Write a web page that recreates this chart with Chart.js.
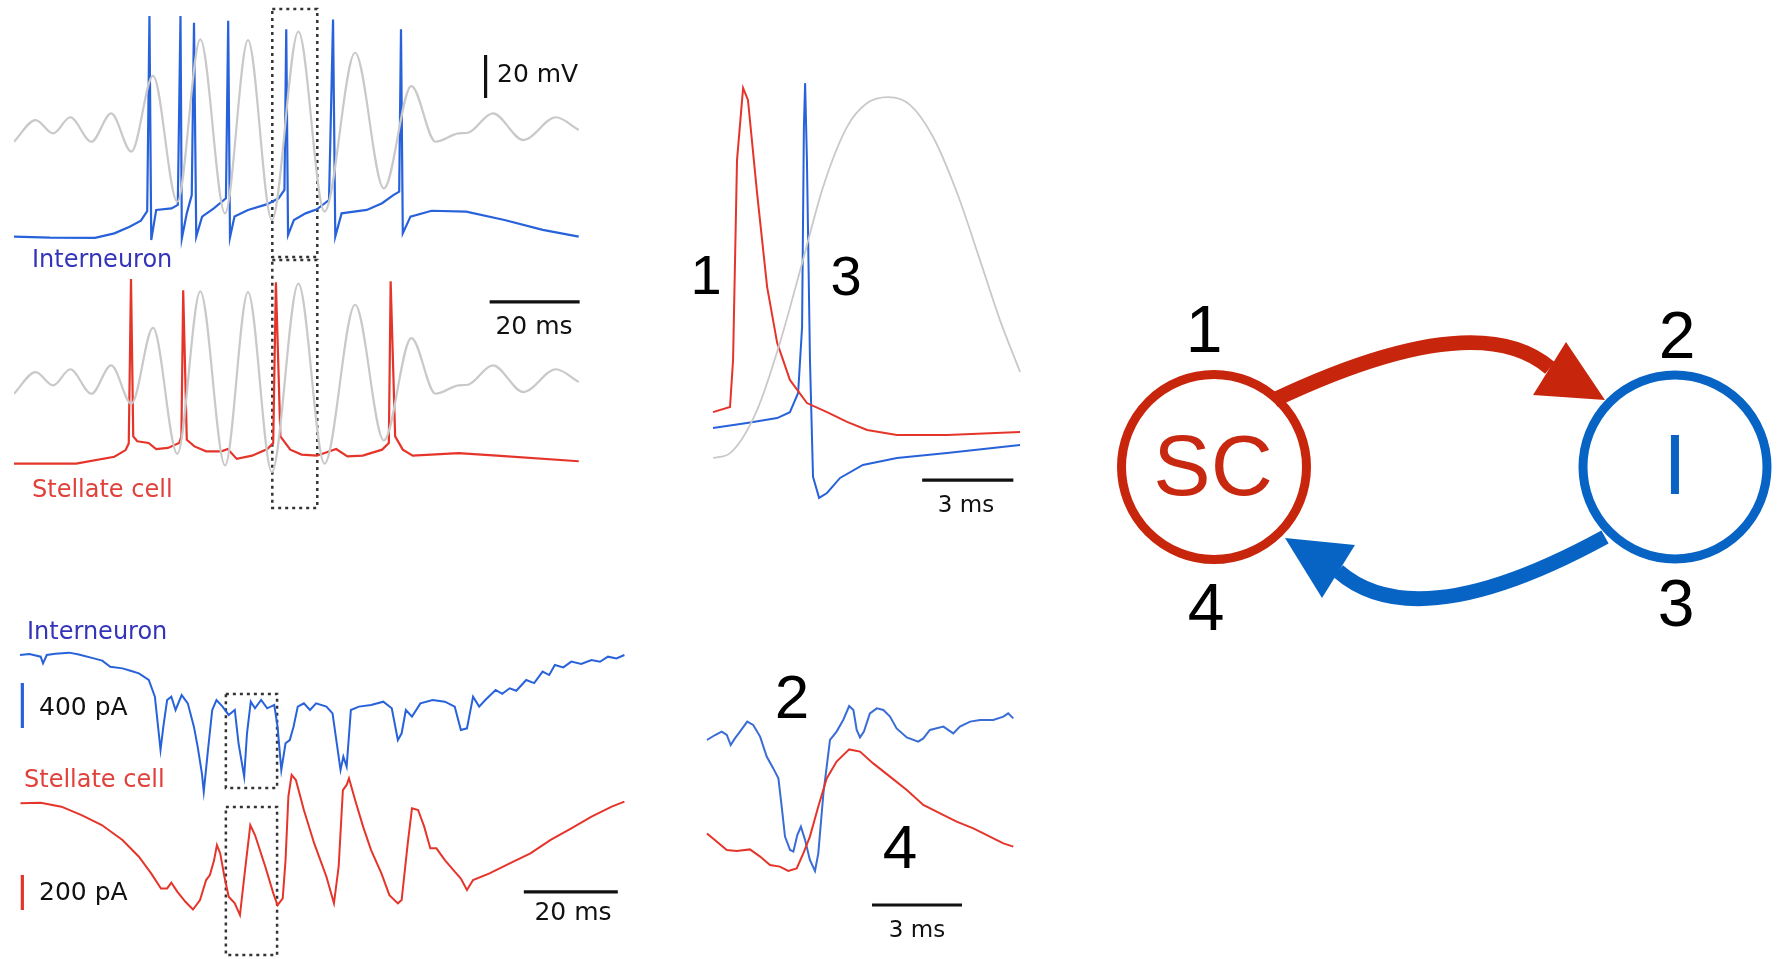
<!DOCTYPE html>
<html>
<head>
<meta charset="utf-8">
<script src="https://cdn.jsdelivr.net/npm/chart.js@4.4.1/dist/chart.umd.min.js"></script>
<style>
body { margin: 0; background: #fff; width: 1783px; height: 959px; overflow: hidden; position: relative; }
canvas { position: absolute; }
.lbl { position: absolute; font-family: "DejaVu Sans", sans-serif; font-size: 24px; line-height: 1; white-space: nowrap; transform: translateY(-50%); }
.ctr { transform: translate(-50%, -50%); }
.num { position: absolute; font-family: "Liberation Sans", Arial, sans-serif; font-size: 56px; line-height: 1; color: #000; transform: translate(-50%, -50%); }
</style>
</head>
<body>
<canvas id="vmInt" width="566" height="260" style="left:14px;top:0px"></canvas>
<canvas id="vmSc" width="566" height="260" style="left:14px;top:252px"></canvas>
<canvas id="vmZoom" width="330" height="460" style="left:700px;top:60px"></canvas>
<canvas id="curInt" width="620" height="240" style="left:10px;top:600px"></canvas>
<canvas id="curSc" width="620" height="199" style="left:10px;top:760px"></canvas>
<canvas id="curZoom" width="340" height="309" style="left:690px;top:650px"></canvas>
<canvas id="circuit" width="683" height="350" style="left:1100px;top:290px"></canvas>

<div class="lbl" style="left:497px;top:73px;font-size:25px;color:#111">20 mV</div>
<div class="lbl ctr" style="left:534px;top:325px;font-size:25px;color:#111">20 ms</div>
<div class="lbl" style="left:32px;top:259px;color:#3434b8">Interneuron</div>
<div class="lbl" style="left:32px;top:489px;color:#e0413b">Stellate cell</div>
<div class="num" style="left:706px;top:275px">1</div>
<div class="num" style="left:846px;top:276px">3</div>
<div class="lbl ctr" style="left:966px;top:504px;font-size:23px;color:#111">3 ms</div>

<div class="lbl" style="left:27px;top:631px;color:#3434b8">Interneuron</div>
<div class="lbl" style="left:39px;top:706px;font-size:25px;color:#111">400 pA</div>
<div class="lbl" style="left:24px;top:779px;color:#e0413b">Stellate cell</div>
<div class="lbl" style="left:39px;top:891px;font-size:25px;color:#111">200 pA</div>
<div class="lbl ctr" style="left:573px;top:911px;font-size:25px;color:#111">20 ms</div>
<div class="num" style="left:792px;top:697px;font-size:62px">2</div>
<div class="num" style="left:900px;top:847px;font-size:62px">4</div>
<div class="lbl ctr" style="left:917px;top:929px;font-size:23px;color:#111">3 ms</div>

<div class="num" style="left:1204px;top:329px;font-size:66px">1</div>
<div class="num" style="left:1677px;top:335px;font-size:66px">2</div>
<div class="num" style="left:1206px;top:607px;font-size:66px">4</div>
<div class="num" style="left:1676px;top:603px;font-size:66px">3</div>
<div class="num" style="left:1213px;top:465px;font-size:86px;color:#c8280f">SC</div>
<div class="num" style="left:1675px;top:464px;font-size:86px;color:#0a63c2">I</div>

<script>
// membrane potential, interneuron (ms, mV)
const vmT_int = [0, 8, 18, 22.3, 25.7, 28.2, 29.6, 30.1, 30.5, 31.6, 35.0, 36.4, 37.0, 37.3, 38.4, 39.5, 40.0, 40.5, 41.8, 44.4, 47.1, 47.6, 48.0, 49.0, 52.0, 56.3, 58.8, 60.1, 60.5, 60.9, 62.2, 64.8, 67.3, 70.0, 70.9, 71.4, 72.8, 78.4, 81.8, 84.3, 85.6, 86.0, 86.4, 88.1, 92.8, 100.5, 109.0, 117.5, 125.5];
const vmV_int = [-69.8, -70.3, -70.4, -68.3, -65.2, -62.4, -58, 32.8, -71.4, -57.4, -56.7, -55.1, 32.8, -70.6, -59, -50.5, 29.7, -69.8, -60.5, -56.7, -52, 30.6, -70.2, -60.5, -57.4, -54.7, -52, -48.1, 26.6, -69.1, -62.1, -59, -57.1, -52.8, 31.2, -69.8, -59, -57.4, -54.3, -50.5, -48.9, 26.6, -68.3, -60.5, -57.8, -58.2, -62.1, -66.7, -69.8];

// membrane potential, stellate cell
const vmT_sc = [0, 13.8, 22.3, 24.8, 25.5, 26.0, 26.5, 27.4, 29.9, 31.6, 34.2, 36.7, 37.2, 37.6, 38.4, 40.1, 42.7, 46.1, 47.5, 49.5, 52.9, 56.3, 57.6, 58.2, 59.2, 61.4, 63.9, 67.3, 71.6, 74.1, 77.5, 81.8, 83.3, 83.7, 84.7, 86.4, 88.6, 98.8, 107.3, 125.5];
const vmV_sc = [-58.2, -58.2, -55.0, -51.9, -48.8, 27.7, -45.5, -47.8, -48.6, -51.4, -50.9, -48.6, -45.5, 22.4, -47.1, -50.2, -52.5, -52.5, -51.4, -56.0, -54.5, -51.4, -48.6, 26.1, -45.5, -51.7, -54.0, -54.5, -51.4, -54.8, -54.5, -51.7, -48.6, 26.6, -45.5, -51.7, -54.5, -53.3, -54.5, -57.1];

// grey field oscillation (same trace behind both cells)
const lfpT = [0, 4.8, 8.7, 12.5, 17.2, 21.6, 26.1, 30.9, 36.3, 41.4, 46.9, 52.0, 57.3, 63.2, 69.0, 75.8, 82.2, 88.3, 93.7, 98.8, 100.9, 106.4, 113.2, 120.4, 125.5];
const lfpV = [-25.7, -15.6, -21.8, -14.3, -25.7, -12.5, -30.3, 4.9, -53.6, 21.9, -59, 21.6, -62.1, 25.5, -58.2, 15.7, -47.4, 0.2, -25.7, -21.8, -21.5, -12.5, -24.9, -14.3, -20.2];

// expanded view of the boxed cycle
const zoomT_sc = [0, 0.56, 0.66, 0.79, 0.99, 1.15, 1.45, 1.78, 2.11, 2.53, 3.09, 3.75, 4.41, 5.07, 6.05, 7.70, 10.1];
const zoomV_sc = [-59.9, -58.4, -45, 12.1, 32.7, 29.3, 2.7, -24.1, -40.1, -50.7, -57.3, -59.9, -62.7, -65, -66.4, -66.4, -65.6];
const zoomT_int = [0, 1.12, 2.11, 2.53, 2.80, 2.93, 2.99, 3.03, 3.09, 3.19, 3.29, 3.49, 3.75, 4.18, 4.93, 6.05, 7.70, 10.1];
const zoomV_int = [-64.4, -63, -61.6, -59.9, -54.4, -35.6, 21.6, 34.1, 12.1, -45, -78.4, -84.4, -83, -78.7, -75, -73, -71.6, -69.3];
const zoomT_lfp = [0, 0.56, 1.45, 2.20, 2.96, 3.62, 4.41, 5.07, 5.76, 6.48, 7.24, 8.03, 8.78, 9.44, 10.1];
const zoomV_lfp = [-73, -71.6, -59.3, -40.1, -16.4, 4.4, 21.6, 28.4, 30.1, 27.9, 18.7, 2.7, -16.4, -33.6, -48.4];

// synaptic currents (ms, pA)
const curT_int = [0, 2, 4.4, 4.9, 5.7, 7.5, 10.5, 12.5, 15.7, 17.5, 19.2, 21.8, 23.5, 25.3, 27.4, 28.7, 29.9, 30.5, 31.3, 32.2, 33.1, 34.4, 35.7, 37.0, 37.8, 38.7, 39.1, 40.0, 40.9, 41.8, 43.1, 44.4, 45.7, 46.5, 47.7, 48.3, 49.1, 50.0, 51.3, 52.6, 54.1, 54.8, 55.6, 56.5, 57.4, 58.2, 59.1, 60.4, 61.7, 63.0, 65.2, 66.5, 67.4, 68.2, 68.8, 69.5, 70.4, 72.1, 74.7, 77.3, 79.1, 80.4, 81.2, 82.1, 83.4, 85.2, 87.8, 90.4, 92.5, 93.8, 95.1, 96.4, 97.7, 99.0, 101.2, 102.6, 104.2, 105.6, 107.7, 109.4, 111.2, 112.6, 113.8, 115.6, 117.3, 119.4, 121.6, 123.4, 125.1, 126.9, 128.6];
const curI_int = [0, 8, -15, -74, 0, 12, 21, 5, -30, -50, -104, -119, -140, -163, -222, -370, -844, -637, -400, -370, -489, -356, -430, -637, -815, -1052, -1215, -844, -489, -400, -459, -533, -489, -785, -1081, -696, -415, -474, -400, -474, -444, -637, -1022, -785, -756, -637, -459, -430, -489, -430, -459, -519, -785, -1022, -904, -993, -489, -459, -444, -415, -474, -756, -696, -489, -548, -430, -400, -415, -459, -667, -652, -370, -459, -400, -311, -345, -296, -318, -222, -250, -148, -178, -89, -110, -59, -80, -44, -60, -15, -30, 0];
const curT_sc = [0.1, 4.4, 8.8, 13.1, 17.4, 21.8, 25.3, 27.9, 30.0, 31.3, 32.2, 33.5, 35.2, 36.8, 38.3, 39.6, 40.4, 41.3, 41.9, 42.6, 43.5, 44.4, 45.7, 46.8, 47.8, 49.0, 50.0, 52.2, 53.9, 54.8, 55.9, 56.5, 57.1, 57.8, 58.7, 60.4, 62.6, 65.2, 66.8, 67.8, 68.7, 69.5, 70.0, 71.3, 73.0, 74.7, 76.9, 78.6, 80.4, 81.2, 82.5, 83.4, 84.7, 86.0, 87.3, 88.6, 90.4, 92.5, 93.8, 95.1, 96.4, 99.9, 104.2, 108.6, 112.9, 117.3, 121.6, 125.9, 128.6];
const curI_sc = [-2, 2, -21, -69, -126, -211, -307, -402, -488, -488, -455, -507, -564, -608, -554, -440, -411, -326, -240, -288, -421, -535, -573, -640, -402, -126, -183, -364, -516, -583, -545, -326, 36, 160, 131, -40, -231, -421, -573, -364, 74, 103, 141, 17, -135, -269, -402, -526, -573, -554, -231, -30, -40, -135, -259, -259, -326, -392, -431, -497, -440, -402, -345, -288, -211, -145, -78, -21, 8];

// expanded currents
const zcT_int = [0, 0.27, 0.49, 0.66, 0.79, 0.93, 1.1, 1.34, 1.54, 1.77, 1.99, 2.21, 2.38, 2.49, 2.6, 2.77, 2.88, 3.01, 3.13, 3.27, 3.43, 3.6, 3.71, 3.88, 4.1, 4.32, 4.54, 4.74, 4.88, 4.99, 5.1, 5.23, 5.43, 5.66, 5.88, 6.1, 6.32, 6.66, 7.04, 7.21, 7.43, 7.88, 8.21, 8.43, 8.77, 9.1, 9.54, 9.88, 10.04, 10.21];
const zcI_int = [0, 25, 42, 25, -25, 8, 42, 92, 75, 17, -83, -142, -192, -333, -483, -550, -558, -475, -433, -500, -600, -655, -567, -267, 0, 42, 100, 170, 150, 50, 13, 42, 133, 158, 150, 117, 58, 13, -8, 8, 50, 67, 33, 67, 92, 100, 100, 117, 133, 108];
const zcT_sc = [0, 0.32, 0.66, 0.99, 1.43, 1.77, 2.1, 2.43, 2.71, 2.99, 3.21, 3.43, 3.71, 3.99, 4.32, 4.74, 5.1, 5.54, 6.1, 6.66, 7.21, 7.77, 8.32, 8.88, 9.43, 9.88, 10.21];
const zcI_sc = [58, 17, -25, -30, -22, -58, -100, -108, -130, -117, -42, 42, 192, 333, 417, 478, 467, 408, 342, 275, 200, 158, 117, 83, 42, 8, -8];

// boxed cycle windows and scale bars
const boxT_vm = [57.4, 67.4];
const boxT_cur = [43.8, 54.7];
const barMv = [14.7, -5.3];     // 20 mV
const barMs = [105.7, 125.7];   // 20 ms
const barZoomMs = [6.88, 9.88]; // 3 ms
const barPa400 = [-249, -649];
const barPa200 = [-411, -611];
const barCurMs = [107.2, 127.2];
const barZcMs = [5.5, 8.5];

const BLUE = '#2862da';
const RED = '#e5352b';
const GREY = '#c9c9c9';

function pts(xs, ys) {
    return xs.map((x, i) => ({ x: x, y: ys[i] }));
}

function trace(xs, ys, color, width, extra) {
    return Object.assign({
        data: pts(xs, ys),
        borderColor: color,
        borderWidth: width,
        pointRadius: 0,
        tension: 0,
        fill: false,
        clip: false
    }, extra || {});
}

function box(t, v, axis) {
    return trace([t[0], t[1], t[1], t[0], t[0]], [v[0], v[0], v[1], v[1], v[0]], '#333', 2.5,
        { borderDash: [3, 4], yAxisID: axis || 'y' });
}

const baseOptions = {
    responsive: false,
    animation: false,
    events: [],
    layout: { padding: 0, autoPadding: false },
    plugins: { legend: { display: false }, tooltip: { enabled: false } }
};

function traceChart(id, xr, yr, datasets, y2r) {
    const scales = {
        x: { type: 'linear', display: false, min: xr[0], max: xr[1] },
        y: { type: 'linear', display: false, min: yr[0], max: yr[1] }
    };
    if (y2r) scales.y2 = { type: 'linear', display: false, min: y2r[0], max: y2r[1] };
    return new Chart(document.getElementById(id), {
        type: 'line',
        data: { datasets: datasets },
        options: Object.assign({}, baseOptions, { scales: scales })
    });
}

const vmRange = [-80.698, 40.233];
const smooth = { cubicInterpolationMode: 'monotone' };

traceChart('vmInt', [0, 125.78], vmRange, [
    trace(lfpT, lfpV, GREY, 2.2, smooth),
    trace(vmT_int, vmV_int, BLUE, 2.2),
    box(boxT_vm, [36.0, -79.3]),
    trace([104.8, 104.8], barMv, '#111', 3.2)
]);

traceChart('vmSc', [0, 125.78], vmRange, [
    trace(lfpT, lfpV, GREY, 2.2, smooth),
    trace(vmT_sc, vmV_sc, RED, 2.2),
    box(boxT_vm, [36.5, -78.8]),
    trace(barMs, [17.0, 17.0], '#111', 3.2)
]);

traceChart('vmZoom', [-0.4276, 10.4276], [-90.714, 40.714], [
    trace(zoomT_lfp, zoomV_lfp, GREY, 1.8, smooth),
    trace(zoomT_sc, zoomV_sc, RED, 2),
    trace(zoomT_int, zoomV_int, BLUE, 2),
    trace(barZoomMs, [-79.3, -79.3], '#111', 3.2)
]);

traceChart('curInt', [-2.128, 129.79], [-1644.65, 488.9], [
    trace(curT_int, curI_int, BLUE, 2),
    box(boxT_cur, [-347, -1182]),
    trace([0.5, 0.5], barPa400, BLUE, 3.2)
]);

traceChart('curSc', [-2.128, 129.79], [-890.8, 245.5], [
    trace(curT_sc, curI_sc, RED, 2),
    box(boxT_cur, [-23, -868]),
    trace([0.5, 0.5], barPa200, RED, 3.2),
    trace(barCurMs, [-508, -508], '#111', 3.2)
]);

traceChart('curZoom', [-0.5667, 10.7667], [-1095, 450], [
    trace(zcT_sc, zcI_sc, RED, 2, { yAxisID: 'y2' }),
    trace(zcT_int, zcI_int, '#3a6cd6', 2),
    trace(barZcMs, [-825, -825], '#111', 3.2)
], [-570, 975]);

// circuit sketch: two cells and the two synapses between them
const arrowPlugin = {
    id: 'synapses',
    afterDatasetsDraw(chart) {
        const ctx = chart.ctx;
        const sx = chart.scales.x, sy = chart.scales.y;
        const P = p => [sx.getPixelForValue(p[0]), sy.getPixelForValue(p[1])];
        const arrows = [
            { color: '#c8260c', from: [174, 110], ctrl: [376, 14.5], to: [450, 78], head: [[505, 110], [433, 105], [466, 52]] },
            { color: '#0864c4', from: [505, 247], ctrl: [316.5, 350], to: [238, 281], head: [[185, 248], [255, 255], [222, 308]] }
        ];
        ctx.save();
        arrows.forEach(a => {
            const f = P(a.from), c = P(a.ctrl), t = P(a.to);
            ctx.strokeStyle = a.color;
            ctx.lineWidth = 15;
            ctx.lineCap = 'butt';
            ctx.beginPath();
            ctx.moveTo(f[0], f[1]);
            ctx.quadraticCurveTo(c[0], c[1], t[0], t[1]);
            ctx.stroke();
            ctx.fillStyle = a.color;
            ctx.beginPath();
            a.head.forEach((h, i) => {
                const q = P(h);
                if (i === 0) ctx.moveTo(q[0], q[1]); else ctx.lineTo(q[0], q[1]);
            });
            ctx.closePath();
            ctx.fill();
        });
        ctx.restore();
    }
};

new Chart(document.getElementById('circuit'), {
    type: 'bubble',
    data: {
        datasets: [
            { data: [{ x: 114, y: 177, r: 92.5 }], borderColor: '#c8260c', backgroundColor: 'rgba(0,0,0,0)', borderWidth: 9, clip: false },
            { data: [{ x: 575, y: 177, r: 92 }], borderColor: '#0864c4', backgroundColor: 'rgba(0,0,0,0)', borderWidth: 9, clip: false }
        ]
    },
    options: Object.assign({}, baseOptions, {
        scales: {
            x: { type: 'linear', display: false, min: 0, max: 683 },
            y: { type: 'linear', display: false, min: 0, max: 350, reverse: true }
        }
    }),
    plugins: [arrowPlugin]
});
</script>
</body>
</html>
